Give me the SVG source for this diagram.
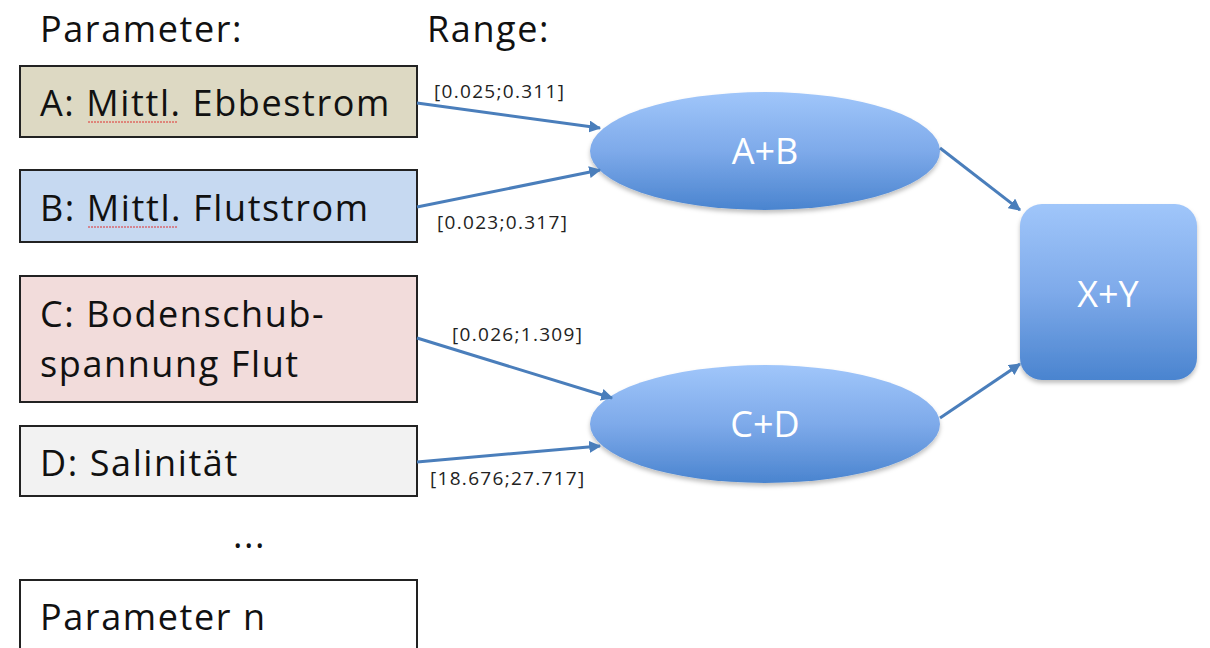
<svg xmlns="http://www.w3.org/2000/svg" width="1210" height="648" viewBox="0 0 1210 648">
<defs>
<linearGradient id="blue" x1="0" y1="0" x2="0" y2="1">
<stop offset="0" stop-color="#a0c6fa"/>
<stop offset="0.5" stop-color="#7eaaea"/>
<stop offset="1" stop-color="#4a84cf"/>
</linearGradient>
<filter id="sh" x="-10%" y="-10%" width="120%" height="130%">
<feDropShadow dx="0" dy="3" stdDeviation="2" flood-color="#000" flood-opacity="0.25"/>
</filter>
<marker id="arr" viewBox="0 0 10 10" refX="9" refY="5" markerWidth="4" markerHeight="4" orient="auto" markerUnits="strokeWidth">
<path d="M0,0 L10,5 L0,10 z" fill="#4a7ebb"/>
</marker>
<style>
.box{stroke:#222;stroke-width:2}
.t{font-family:"Open Sans","Liberation Sans",sans-serif;font-size:36px;letter-spacing:1.6px;fill:#111}
.lbl{font-family:"Open Sans","Liberation Sans",sans-serif;font-size:19px;letter-spacing:1.3px;fill:#222}
.wt{font-family:"Open Sans","Liberation Sans",sans-serif;font-size:36px;fill:#fff;text-anchor:middle}
.c{stroke:#4a7ebb;stroke-width:3;fill:none;marker-end:url(#arr)}
.sq{stroke:#e03030;stroke-width:1;fill:none;stroke-dasharray:2 1}
</style>
</defs>
<text class="t" x="40" y="42">Parameter:</text>
<text class="t" x="427" y="42">Range:</text>
<g id="nodeA">
<rect class="box" x="20" y="66" width="397" height="71" fill="#ddd9c3"/>
<text class="t" x="40" y="116">A: Mittl. Ebbestrom</text>
<path class="sq" d="M88,122 L178,122"/>
</g>
<g id="nodeB">
<rect class="box" x="20" y="170" width="397" height="72" fill="#c6d9f1"/>
<text class="t" x="40" y="221">B: Mittl. Flutstrom</text>
<path class="sq" d="M88,227 L178,227"/>
</g>
<g id="nodeC">
<rect class="box" x="20" y="276" width="397" height="126" fill="#f2dcdb"/>
<text class="t" x="40" y="327">C: Bodenschub-</text>
<text class="t" x="40" y="377">spannung Flut</text>
</g>
<g id="nodeD">
<rect class="box" x="20" y="426" width="397" height="70" fill="#f2f2f2"/>
<text class="t" x="40" y="476">D: Salinität</text>
</g>
<text class="t" x="233" y="548">...</text>
<g id="nodeN">
<rect class="box" x="20" y="580" width="397" height="80" fill="#ffffff"/>
<text class="t" x="40" y="630">Parameter n</text>
</g>
<g id="nodeAB">
<ellipse cx="765" cy="151" rx="175" ry="59" fill="url(#blue)" filter="url(#sh)"/>
<text class="wt" x="765" y="164">A+B</text>
</g>
<g id="nodeCD">
<ellipse cx="765" cy="424" rx="175" ry="59" fill="url(#blue)" filter="url(#sh)"/>
<text class="wt" x="765" y="437">C+D</text>
</g>
<g id="nodeXY">
<rect x="1020" y="204" width="177" height="176" rx="22" fill="url(#blue)" filter="url(#sh)"/>
<text class="wt" x="1108" y="307">X+Y</text>
</g>
<g id="connectors">
<path class="c" d="M417,103 L600,128"/>
<path class="c" d="M417,207 L600,170"/>
<path class="c" d="M417,338 L612,398"/>
<path class="c" d="M417,462 L600,446"/>
<path class="c" d="M940,148 L1020,210"/>
<path class="c" d="M940,418 L1020,364"/>
<text class="lbl" x="434" y="98">[0.025;0.311]</text>
<text class="lbl" x="437" y="229">[0.023;0.317]</text>
<text class="lbl" x="452" y="341">[0.026;1.309]</text>
<text class="lbl" x="430" y="485">[18.676;27.717]</text>
</g>
</svg>
